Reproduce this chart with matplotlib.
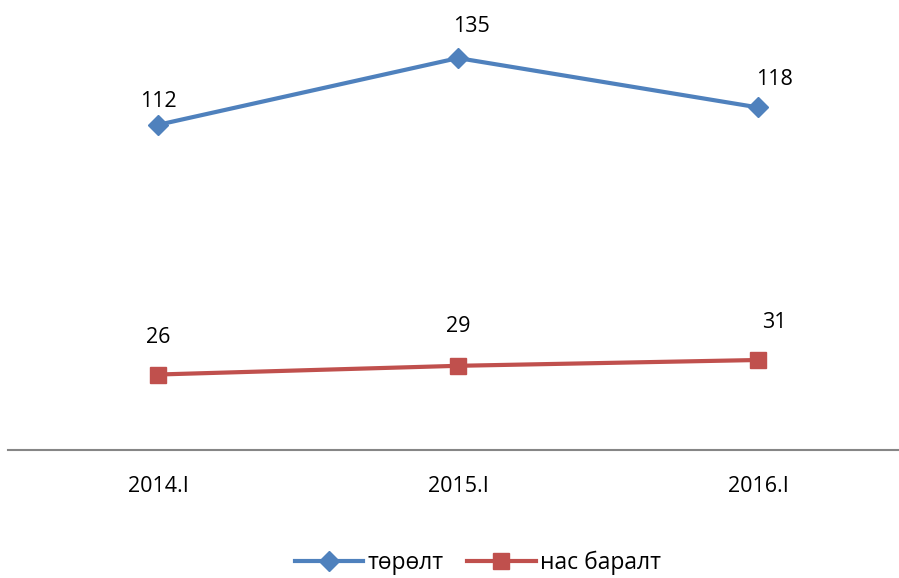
import matplotlib
matplotlib.use("Agg")
import matplotlib.pyplot as plt

categories = ["2014.I", "2015.I", "2016.I"]
births = [112, 135, 118]
deaths = [26, 29, 31]
series_names = ["төрөлт", "нас баралт"]

plt.rcParams['font.family'] = ['Open Sans', 'DejaVu Sans']

W, H = 899, 578
fig = plt.figure(figsize=(W/100, H/100), dpi=100)
ax = fig.add_axes([8/W, (H-450)/H, 900/W, 450/H])
x = list(range(len(categories)))
ax.plot(x, births, color="#4F81BD", lw=3, marker="D", ms=10, label=series_names[0])
ax.plot(x, deaths, color="#C0504D", lw=3, marker="s", ms=12, label=series_names[1])
b_off = [(0, 17), (10, 23), (12, 20)]
d_off = [(0, 27), (0, 28), (12, 27)]
for xi, v, (dx, dy) in zip(x, births, b_off):
    ax.annotate(str(v), (xi, v), xytext=(dx, dy), textcoords="offset points",
                ha="center", va="center", fontsize=15.5)
for xi, v, (dx, dy) in zip(x, deaths, d_off):
    ax.annotate(str(v), (xi, v), xytext=(dx, dy), textcoords="offset points",
                ha="center", va="center", fontsize=15.5)
ax.set_xlim(-0.5, 2.5)
ax.set_ylim(0, 155)
ax.set_xticks(x)
ax.set_xticklabels(categories, fontsize=15.5)
ax.tick_params(axis="x", length=0, pad=19)
ax.set_yticks([])
for s in ["top", "right", "left"]:
    ax.spines[s].set_visible(False)
ax.spines["bottom"].set_color("#868686")
ax.spines["bottom"].set_linewidth(1.5)
leg = fig.legend(loc="center", bbox_to_anchor=(478/W, 1-563/H), ncol=2, frameon=False,
                 fontsize=16.5, handlelength=3, columnspacing=1.0, handletextpad=0.2)
fig.savefig("out.png", dpi=100)
